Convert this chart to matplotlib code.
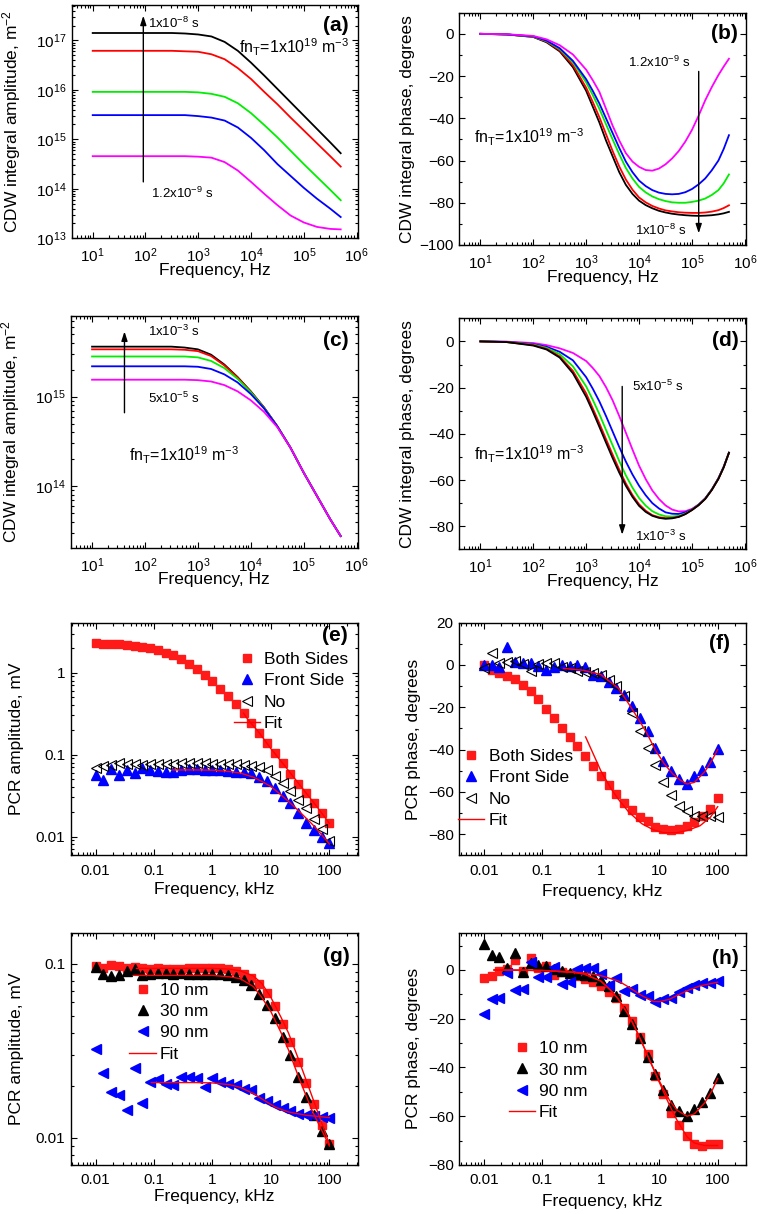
import numpy as np
import matplotlib
matplotlib.use("Agg")
import matplotlib.pyplot as plt
from matplotlib.ticker import LogLocator, NullFormatter, FuncFormatter, MultipleLocator, FixedLocator

# ---------------- data ----------------
# CDW simulation frequency grid (Hz) for amplitude panels
cdw_freq = [10, 31.6, 100, 178, 316, 562, 1000, 1778, 3162, 5623, 10000, 17783,
            31623, 56234, 100000, 177828, 316228, 500000]
# finer grid (Hz) for phase panels
cdw_freq_ph = [10, 31.6, 100, 178, 316, 562, 1000, 1334, 1778, 2371, 3162, 4217, 5623, 7499,
               10000, 13335, 17783, 23714, 31623, 42170, 56234, 74989, 100000, 133352,
               177828, 237137, 316228, 398107, 500000]

# (a) log10 amplitude (m^-2), tau = 1e-8 ... 1.2e-9 s
a_black = [17.15, 17.15, 17.15, 17.15, 17.15, 17.14, 17.12, 17.08, 16.97, 16.79, 16.55, 16.29, 16.02, 15.75, 15.48, 15.21, 14.94, 14.72]
a_red = [16.79, 16.79, 16.79, 16.79, 16.79, 16.78, 16.77, 16.72, 16.62, 16.44, 16.22, 15.96, 15.71, 15.44, 15.18, 14.92, 14.66, 14.45]
a_green = [15.96, 15.96, 15.96, 15.96, 15.96, 15.96, 15.95, 15.92, 15.86, 15.73, 15.53, 15.29, 15.04, 14.77, 14.50, 14.24, 13.98, 13.77]
a_blue = [15.49, 15.49, 15.49, 15.49, 15.49, 15.49, 15.47, 15.44, 15.38, 15.24, 15.03, 14.78, 14.50, 14.26, 14.02, 13.80, 13.60, 13.43]
a_magenta = [14.66, 14.66, 14.66, 14.66, 14.66, 14.66, 14.65, 14.63, 14.54, 14.37, 14.14, 13.90, 13.67, 13.46, 13.32, 13.23, 13.19, 13.18]

# (b) phase (degrees), on cdw_freq_ph
b_black = [0, -0.3, -1.5, -4, -8.3, -15.8, -27, -34.5, -42, -50.5, -58, -65.5, -71.5, -75.8, -79, -81.1, -82.6, -83.8, -84.6,
           -85.2, -85.6, -85.9, -86.1, -86.2, -86.1, -85.9, -85.5, -85, -84.3]
b_red = [0, -0.3, -1.4, -3.7, -7.8, -14.8, -25.5, -32.3, -39.5, -47.5, -55.5, -62.8, -69, -73.8, -77.5, -79.8, -81.5, -82.7, -83.6,
         -84.1, -84.5, -84.7, -84.8, -84.8, -84.6, -84.2, -83.5, -82.5, -81.2]
b_green = [0, -0.3, -1.3, -3.4, -7.2, -13.5, -23, -29, -35.5, -42.8, -50, -57, -63.5, -68.5, -72.5, -75.1, -77, -78.3, -79.2,
           -79.8, -80, -80, -79.6, -79, -78, -76.3, -74, -70.8, -66.6]
b_blue = [0, -0.3, -1.2, -3.2, -6.8, -12.8, -21.5, -27, -33, -40, -47, -54, -60.5, -65.5, -69.5, -72.1, -74, -75.2, -75.8,
          -76, -75.8, -75, -73.5, -71.3, -68.5, -64.6, -60, -54.5, -48]
b_magenta = [0, -0.2, -1.0, -2.6, -5.4, -9.8, -17, -22, -27.5, -35.5, -43.5, -50.5, -56.5, -60.5, -63, -64.5, -64.8, -63.8, -61.8,
             -59, -55.5, -51, -45.5, -38.8, -31.5, -25.2, -19.5, -15.5, -11.8]

# (c) log10 amplitude, tau = 1e-3 ... 5e-5 s
c_black = [15.56, 15.56, 15.56, 15.56, 15.56, 15.55, 15.53, 15.47, 15.36, 15.22, 15.06, 14.88, 14.67, 14.43, 14.15, 13.89, 13.63, 13.44]
c_red = [15.53, 15.53, 15.53, 15.53, 15.53, 15.525, 15.51, 15.455, 15.35, 15.215, 15.055, 14.88, 14.67, 14.43, 14.15, 13.89, 13.63, 13.44]
c_green = [15.45, 15.45, 15.45, 15.45, 15.45, 15.45, 15.44, 15.40, 15.32, 15.20, 15.05, 14.875, 14.67, 14.43, 14.15, 13.89, 13.63, 13.44]
c_blue = [15.34, 15.34, 15.34, 15.34, 15.34, 15.34, 15.335, 15.31, 15.25, 15.16, 15.03, 14.87, 14.67, 14.43, 14.15, 13.89, 13.63, 13.44]
c_magenta = [15.19, 15.19, 15.19, 15.19, 15.19, 15.19, 15.185, 15.17, 15.13, 15.06, 14.96, 14.83, 14.66, 14.43, 14.15, 13.89, 13.63, 13.44]

# (d) phase (degrees), on cdw_freq_ph
d_black = [0, -0.3, -1.8, -3.5, -7, -13.8, -24, -30.3, -37, -43.8, -50.5, -56.8, -62.5, -67.3, -71.2, -73.8, -75.5, -76.4, -76.8,
           -76.6, -76, -74.8, -73, -70.9, -68.2, -64.3, -59.5, -54.5, -48.2]
d_red = [0, -0.3, -1.6, -3.2, -6.5, -12.8, -22.5, -29, -35.5, -42.3, -49, -55.5, -61.5, -66.5, -70.5, -73.3, -75.2, -76.1, -76.5,
         -76.4, -75.9, -74.7, -73, -70.9, -68.2, -64.3, -59.5, -54.5, -48.2]
d_green = [0, -0.3, -1.4, -2.8, -5.5, -10.8, -19.5, -25.3, -31.5, -38.3, -45, -51.8, -58, -63.3, -67.8, -71.1, -73.5, -74.9, -75.7,
           -75.8, -75.5, -74.5, -72.9, -70.8, -68.1, -64.2, -59.4, -54.4, -48.2]
d_blue = [0, -0.2, -1.2, -2.3, -4.5, -8.2, -15.5, -20.5, -26, -32.3, -39, -45.7, -52, -57.6, -62.5, -66.6, -70, -72.3, -74,
          -74.6, -74.7, -74, -72.8, -70.7, -68, -64.1, -59.3, -54.3, -48.2]
d_magenta = [0, -0.1, -0.7, -1.6, -3.0, -5.0, -8.5, -11.5, -15, -19.8, -25.5, -32.3, -39.5, -46.8, -53.8, -59.6, -64.5, -68.2, -71,
             -72.8, -73.6, -73.5, -72.5, -70.6, -68, -64.1, -59.2, -54.2, -48.2]

# PCR measurement frequencies (kHz)
pcr_freq = [0.01, 0.0136, 0.0185, 0.0251, 0.0341, 0.0464, 0.0631, 0.0858, 0.117, 0.158,
            0.215, 0.293, 0.398, 0.541, 0.736, 1.0, 1.36, 1.85, 2.51, 3.41, 4.64, 6.31,
            8.58, 11.7, 15.8, 21.5, 29.3, 39.8, 54.1, 73.6, 100]

# (e) PCR amplitude (mV)
e_both = [2.28, 2.25, 2.24, 2.22, 2.18, 2.13, 2.06, 1.98, 1.88, 1.76, 1.62, 1.46, 1.28, 1.10, 0.94, 0.78,
          0.64, 0.52, 0.41, 0.32, 0.245, 0.185, 0.140, 0.104, 0.078, 0.058, 0.044, 0.034, 0.0255, 0.0193, 0.0148]
e_front = [0.057, 0.049, 0.066, 0.056, 0.064, 0.060, 0.068, 0.065, 0.063, 0.061, 0.062, 0.065, 0.066, 0.066, 0.065, 0.065,
           0.064, 0.063, 0.062, 0.061, 0.059, 0.053, 0.047, 0.039, 0.031, 0.0255, 0.0193, 0.0148, 0.0119, 0.0098, 0.0083]
e_no = [0.069, 0.072, 0.075, 0.078, 0.077, 0.076, 0.075, 0.076, 0.076, 0.077, 0.077, 0.078, 0.078, 0.078, 0.078, 0.077,
        0.077, 0.076, 0.076, 0.075, 0.073, 0.070, 0.064, 0.055, 0.045, 0.036, 0.028, 0.022, 0.0165, 0.0125, 0.0089]
e_fit_both_f = [3.4, 4, 6.3, 10, 16, 25, 40, 63, 100]
e_fit_both = [0.32, 0.27, 0.185, 0.118, 0.078, 0.052, 0.034, 0.0225, 0.0145]
e_fit_front_f = [0.21, 0.5, 1, 2, 3, 5, 7, 10, 15, 20, 30, 50, 70, 100]
e_fit_front = [0.065, 0.065, 0.0645, 0.062, 0.0595, 0.053, 0.047, 0.0407, 0.032, 0.0268, 0.0205, 0.0143, 0.011, 0.0081]

# (f) PCR phase (degrees)
f_both = [0, -2.4, -3.6, -5, -6.8, -9.4, -12.1, -16.2, -20.9, -25.2, -29.6, -34.1, -38.5, -42.9, -47.6, -52.4,
          -56.9, -61, -65.3, -68.7, -71.9, -73.9, -76.7, -77.5, -77.8, -77.5, -76.3, -74.4, -71.5, -68.1, -62.9]
f_front = [0, 0, -0.8, 8.6, 1.6, 0.8, 0.8, -0.5, -2.4, -0.8, 0, -0.3, 0, -0.8, -4.7, -5.2,
           -7.9, -11, -14.2, -19.3, -25.2, -31.4, -39.3, -45.6, -50.3, -53.9, -56.3, -52.7, -49.8, -46.1, -39.8]
f_no = [-1.6, 5.8, 1.1, 1.3, 1.9, 0.3, -2.7, 0.5, 0.8, 1.1, -0.8, -1.6, -2.7, -3.1, -3.6, -4.7,
        -7.1, -9.9, -14.9, -22.8, -31, -39.3, -47.2, -55.5, -61.3, -66.5, -69.2, -71.2, -71.5, -71.5, -71.9]
f_fit_both_f = [0.55, 0.8, 1.0, 1.5, 2, 3, 5, 8, 12, 20, 30, 50, 75, 100]
f_fit_both = [-34, -44, -50, -58.5, -63.5, -69.5, -75, -78, -79.3, -79.3, -78.3, -76, -72, -67]
f_fit_front_f = [0.23, 0.5, 1, 2, 3.2, 4.5, 6.2, 8.5, 12, 17, 23, 30, 40, 60, 80, 100]
f_fit_front = [-1.6, -2.5, -4.5, -11, -19.5, -26, -32.5, -40, -46.5, -51.5, -54.5, -56.3, -55.5, -50.5, -45, -40]

# (g) PCR amplitude (mV) vs thickness
g_10 = [0.097, 0.095, 0.098, 0.097, 0.094, 0.096, 0.094, 0.093, 0.094, 0.093, 0.093, 0.093, 0.094, 0.095, 0.094, 0.095,
        0.094, 0.093, 0.091, 0.087, 0.083, 0.076, 0.068, 0.057, 0.045, 0.0354, 0.0274, 0.0206, 0.0157, 0.0119, 0.0092]
g_30 = [0.096, 0.087, 0.085, 0.086, 0.091, 0.093, 0.086, 0.087, 0.088, 0.088, 0.087, 0.088, 0.087, 0.087, 0.087, 0.087,
        0.087, 0.086, 0.084, 0.081, 0.075, 0.067, 0.058, 0.0486, 0.038, 0.030, 0.0225, 0.0172, 0.0135, 0.0110, 0.0092]
g_90 = [0.0325, 0.0235, 0.0183, 0.0176, 0.0145, 0.0251, 0.0158, 0.0210, 0.0218, 0.0205, 0.0201, 0.0224, 0.0224, 0.0220, 0.0197, 0.0220,
        0.0210, 0.0203, 0.0201, 0.0192, 0.0188, 0.0169, 0.0162, 0.0154, 0.0148, 0.0143, 0.0138, 0.0135, 0.0133, 0.0132, 0.0130]
g_fit_10_f = [0.05, 1, 2, 3, 5, 7, 10, 15, 20, 30, 50, 70, 100]
g_fit_10 = [0.094, 0.094, 0.093, 0.091, 0.085, 0.077, 0.064, 0.049, 0.040, 0.028, 0.0175, 0.0128, 0.0092]
g_fit_30_f = [0.045, 1, 2, 3, 5, 7, 10, 15, 20, 30, 50, 70, 100]
g_fit_30 = [0.0857, 0.0857, 0.084, 0.082, 0.074, 0.064, 0.053, 0.040, 0.032, 0.0222, 0.0145, 0.0115, 0.0090]
g_fit_90_f = [0.09, 0.5, 1, 2, 3, 5, 8, 12, 20, 40, 100]
g_fit_90 = [0.0208, 0.0208, 0.0207, 0.0202, 0.0195, 0.0180, 0.0163, 0.0150, 0.0141, 0.0135, 0.0131]

# (h) PCR phase (degrees) vs thickness
h_10 = [-3.4, -2.6, -0.3, 0.5, 4.3, -0.5, 5.0, 0.8, 1.5, -2.0, -1.0, -1.5, -2.5, -3.5, -4.8, -6.5,
        -9.2, -11.6, -15.5, -20.9, -27.4, -34.6, -43.4, -51, -58.8, -63.6, -68.1, -71.5, -72.1, -71.5, -71.5]
h_30 = [10.7, 6.2, 5.5, 1.0, 6.8, -0.7, 3.0, 2.0, 1.8, 0.5, -0.5, -1.2, -1.5, -2.0, -2.5, -4.1,
        -6.6, -10.5, -16.8, -22.3, -28, -35.6, -42.8, -49.2, -55.4, -57.9, -59.8, -57, -54, -50.6, -44.2]
h_90 = [-18.2, -11.9, -11.6, -1.4, -8.2, -7.9, 3.4, -2.7, -3.0, 1.4, -5.9, -5.1, 0.4, 1.0, 0.7, -1.6,
        -6.2, -3.1, -8.6, -7.8, -10.3, -10.5, -13, -12, -11.6, -9.2, -7.5, -6.2, -5.5, -5.5, -4.5]
h_fit_10_f = [0.015, 0.1, 0.3, 0.5, 1, 1.5, 2, 3, 4, 5, 7, 10, 15, 20, 30, 40, 60, 100]
h_fit_10 = [0, -0.2, -0.8, -1.5, -4.5, -8.5, -12, -18.5, -24.5, -29.5, -37.5, -46, -55.5, -61.5, -68.5, -71, -72, -72]
h_fit_30_f = [0.015, 0.1, 0.3, 0.5, 1, 1.5, 2, 3, 4, 5, 7, 10, 15, 20, 30, 40, 60, 80, 100]
h_fit_30 = [0, -0.2, -0.8, -1.5, -4.5, -8.5, -12, -18.5, -24.5, -29.5, -37.5, -45.5, -53.5, -57.5, -60, -59, -54.5, -49.5, -44.5]
h_fit_90_f = [0.015, 0.1, 0.5, 1, 2, 3, 5, 8, 10, 15, 20, 30, 50, 100]
h_fit_90 = [0, -0.2, -1.2, -2.3, -4.5, -7, -10.5, -12.9, -13, -12, -10.5, -8.5, -6.5, -5]

# ---------------- style ----------------
plt.rcParams['font.family'] = ['Liberation Sans', 'DejaVu Sans']
plt.rcParams['mathtext.fontset'] = 'custom'
plt.rcParams['mathtext.rm'] = 'Liberation Sans'
plt.rcParams['mathtext.it'] = 'Liberation Sans:italic'
plt.rcParams['mathtext.bf'] = 'Liberation Sans:bold'
plt.rcParams['mathtext.default'] = 'regular'

W, H = 757, 1214
fig = plt.figure(figsize=(W / 100, H / 100), dpi=100)

TICK_FS = 11
LABEL_FS = 12.5
LEG_FS = 12.5
ANN_FS = 9.5
FN_FS = 11.5
PANEL_FS = 15

COLS = ['#000000', '#ff0000', '#00ee00', '#0000ff', '#ff00ff']


def make_axes(l, t, r, b):
    return fig.add_axes([l / W, 1 - b / H, (r - l) / W, (b - t) / H])


def style(ax, ylab_x, xlab_y):
    ax.tick_params(which='both', direction='in', top=True, right=True, width=0.8,
                   labelsize=TICK_FS)
    ax.tick_params(which='major', length=4.5)
    ax.tick_params(which='minor', length=2.5)
    ax.tick_params(axis='x', which='major', pad=6)
    ax.tick_params(axis='y', which='major', pad=4)
    for s in ax.spines.values():
        s.set_linewidth(1.0)
    ax.yaxis.set_label_coords(ylab_x, 0.5)
    ax.xaxis.set_label_coords(0.5, xlab_y)


def log_x_cdw(ax):
    ax.set_xscale('log')
    ax.set_xlim(4.0, 1.05e6)
    ax.xaxis.set_major_locator(LogLocator(base=10, numticks=20))
    ax.xaxis.set_minor_locator(LogLocator(base=10, subs=np.arange(2, 10), numticks=40))
    ax.xaxis.set_minor_formatter(NullFormatter())
    ax.set_xlabel('Frequency, Hz', fontsize=LABEL_FS)


def log_x_pcr(ax):
    ax.set_xscale('log')
    ax.set_xlim(0.0038, 305)
    ax.xaxis.set_major_locator(FixedLocator([0.01, 0.1, 1, 10, 100]))
    ax.xaxis.set_major_formatter(FuncFormatter(lambda v, p: '%g' % v))
    ax.xaxis.set_minor_locator(LogLocator(base=10, subs=np.arange(2, 10), numticks=40))
    ax.xaxis.set_minor_formatter(NullFormatter())
    ax.set_xlabel('Frequency, kHz', fontsize=LABEL_FS)


def log_y(ax, lo, hi, fmt=None):
    ax.set_yscale('log')
    ax.set_ylim(lo, hi)
    ax.yaxis.set_major_locator(LogLocator(base=10, numticks=20))
    ax.yaxis.set_minor_locator(LogLocator(base=10, subs=np.arange(2, 10), numticks=40))
    ax.yaxis.set_minor_formatter(NullFormatter())
    if fmt is not None:
        ax.yaxis.set_major_formatter(fmt)


def arrow(ax, x0, y0, x1, y1):
    ax.annotate('', xy=(x1, y1), xytext=(x0, y0),
                arrowprops=dict(arrowstyle='-|>,head_length=0.55,head_width=0.18',
                                color='k', lw=1.0, shrinkA=0, shrinkB=0,
                                mutation_scale=10))


def panel_label(ax, s, x, y):
    ax.text(x, y, s, transform=ax.transAxes, ha='right', va='center',
            fontsize=PANEL_FS, fontweight='bold')


fnT = 'fn$_{T}$=1x10$^{19}$ m$^{-3}$'
freq = np.array(cdw_freq)
freq_ph = np.array(cdw_freq_ph)

# ---------------- (a) ----------------
ax = make_axes(71.7, 5, 357.7, 238.3)
for vals, c in zip([a_black, a_red, a_green, a_blue, a_magenta], COLS):
    ax.plot(freq, 10 ** np.array(vals), color=c, lw=1.3)
log_x_cdw(ax)
log_y(ax, 1e13, 5.2e17)
ax.set_ylabel('CDW integral amplitude, m$^{-2}$', fontsize=LABEL_FS)
style(ax, -0.170, -0.106)
arrow(ax, 91, 10 ** 14.14, 91, 10 ** 17.5)
ax.text(113, 10 ** 17.35, '1x10$^{-8}$ s', fontsize=ANN_FS, ha='left', va='center')
ax.text(130, 10 ** 13.9, '1.2x10$^{-9}$ s', fontsize=ANN_FS, ha='left', va='center')
ax.text(6000, 10 ** 16.86, fnT, fontsize=FN_FS, ha='left', va='center')
panel_label(ax, '(a)', 0.967, 0.914)

# ---------------- (b) ----------------
ax = make_axes(459.3, 12.7, 746, 245)
for vals, c in zip([b_black, b_red, b_green, b_blue, b_magenta], COLS):
    ax.plot(freq_ph, vals, color=c, lw=1.3)
log_x_cdw(ax)
ax.set_ylim(-100, 10)
ax.yaxis.set_major_locator(MultipleLocator(20))
ax.yaxis.set_minor_locator(MultipleLocator(10))
ax.set_ylabel('CDW integral phase, degrees', fontsize=LABEL_FS)
style(ax, -0.155, -0.106)
arrow(ax, 1.34e5, -17.8, 1.34e5, -94.5)
ax.text(6170, -13.4, '1.2x10$^{-9}$ s', fontsize=ANN_FS, ha='left', va='center')
ax.text(8300, -92.9, '1x10$^{-8}$ s', fontsize=ANN_FS, ha='left', va='center')
ax.text(7.5, -49, fnT, fontsize=FN_FS, ha='left', va='center')
panel_label(ax, '(b)', 0.973, 0.911)

# ---------------- (c) ----------------
ax = make_axes(71, 316, 357.7, 547.7)
for vals, c in zip([c_black, c_red, c_green, c_blue, c_magenta], COLS):
    ax.plot(freq, 10 ** np.array(vals), color=c, lw=1.3)
log_x_cdw(ax)
log_y(ax, 2.04e13, 8.0e15)
ax.set_ylabel('CDW integral amplitude, m$^{-2}$', fontsize=LABEL_FS)
style(ax, -0.170, -0.106)
arrow(ax, 41, 10 ** 14.82, 41, 10 ** 15.73)
ax.text(112, 10 ** 15.73, '1x10$^{-3}$ s', fontsize=ANN_FS, ha='left', va='center')
ax.text(112, 10 ** 14.98, '5x10$^{-5}$ s', fontsize=ANN_FS, ha='left', va='center')
ax.text(51, 10 ** 14.34, fnT, fontsize=FN_FS, ha='left', va='center')
panel_label(ax, '(c)', 0.967, 0.896)

# ---------------- (d) ----------------
ax = make_axes(459.3, 318.3, 746, 549.3)
for vals, c in list(zip([d_magenta, d_blue, d_green, d_red, d_black], COLS[::-1])):
    ax.plot(freq_ph, vals, color=c, lw=1.3)
log_x_cdw(ax)
ax.set_ylim(-90, 10)
ax.yaxis.set_major_locator(MultipleLocator(20))
ax.yaxis.set_minor_locator(MultipleLocator(10))
ax.set_ylabel('CDW integral phase, degrees', fontsize=LABEL_FS)
style(ax, -0.155, -0.106)
arrow(ax, 4800, -19.5, 4800, -83.7)
ax.text(7400, -19.5, '5x10$^{-5}$ s', fontsize=ANN_FS, ha='left', va='center')
ax.text(8300, -84.4, '1x10$^{-3}$ s', fontsize=ANN_FS, ha='left', va='center')
ax.text(7.5, -49, fnT, fontsize=FN_FS, ha='left', va='center')
panel_label(ax, '(d)', 0.973, 0.906)

pf = np.array(pcr_freq)
SQ = dict(marker='s', ms=5.5, ls='none', color='#ff1a1a', mec='#ff1a1a')
TRI_B = dict(marker='^', ms=6.5, ls='none', color='#0000ff', mec='#0000ff')
TRI_K = dict(marker='^', ms=6.5, ls='none', color='#000000', mec='#000000')
LT_B = dict(marker='<', ms=6.5, ls='none', color='#0000ff', mec='#0000ff')
LT_OPEN = dict(marker='<', ms=6.5, ls='none', mfc='none', mec='#000000', mew=0.8)
FIT = dict(color='#ff0000', lw=1.0)


def legend(ax, handles, labels, x, y):
    ax.legend(handles, labels, loc='upper left', bbox_to_anchor=(x, y), frameon=False,
              fontsize=LEG_FS, handlelength=1.5, handletextpad=0.25, labelspacing=0.35,
              borderpad=0, borderaxespad=0, numpoints=1)


# ---------------- (e) ----------------
ax = make_axes(71, 622.7, 357.7, 855.3)
h1, = ax.plot(pf, e_both, **SQ)
h2, = ax.plot(pf, e_front, **TRI_B)
h3, = ax.plot(pf, e_no, **LT_OPEN)
h4, = ax.plot(e_fit_both_f, e_fit_both, **FIT)
ax.plot(e_fit_front_f, e_fit_front, **FIT)
log_x_pcr(ax)
log_y(ax, 0.0059, 4.07, FuncFormatter(lambda v, p: '%g' % v))
ax.set_ylabel('PCR amplitude, mV', fontsize=LABEL_FS)
style(ax, -0.164, -0.114)
legend(ax, [h1, h2, h3, h4], ['Both Sides', 'Front Side', 'No', 'Fit'], 0.567, 0.874)
panel_label(ax, '(e)', 0.967, 0.947)

# ---------------- (f) ----------------
ax = make_axes(459.3, 622.7, 746, 855.3)
h1, = ax.plot(pf, f_both, **SQ)
h2, = ax.plot(pf, f_front, **TRI_B)
h3, = ax.plot(pf, f_no, **LT_OPEN)
h4, = ax.plot(f_fit_both_f, f_fit_both, **FIT)
ax.plot(f_fit_front_f, f_fit_front, **FIT)
log_x_pcr(ax)
ax.set_ylim(-90, 20)
ax.yaxis.set_major_locator(MultipleLocator(20))
ax.yaxis.set_minor_locator(MultipleLocator(10))
ax.set_ylabel('PCR phase, degrees', fontsize=LABEL_FS)
style(ax, -0.134, -0.124)
legend(ax, [h1, h2, h3, h4], ['Both Sides', 'Front Side', 'No', 'Fit'], -0.003, 0.457)
panel_label(ax, '(f)', 0.944, 0.911)

# ---------------- (g) ----------------
ax = make_axes(71, 932.7, 357.7, 1165)
h1, = ax.plot(pf, g_10, **SQ)
h2, = ax.plot(pf, g_30, **TRI_K)
h3, = ax.plot(pf, g_90, **LT_B)
h4, = ax.plot(g_fit_10_f, g_fit_10, **FIT)
ax.plot(g_fit_30_f, g_fit_30, **FIT)
ax.plot(g_fit_90_f, g_fit_90, **FIT)
log_x_pcr(ax)
log_y(ax, 0.0070, 0.1506, FuncFormatter(lambda v, p: '%g' % v))
ax.set_ylabel('PCR amplitude, mV', fontsize=LABEL_FS)
style(ax, -0.164, -0.103)
legend(ax, [h1, h2, h3, h4], ['10 nm', '30 nm', '90 nm', 'Fit'], 0.204, 0.784)
panel_label(ax, '(g)', 0.973, 0.897)

# ---------------- (h) ----------------
ax = make_axes(459.3, 932.7, 746, 1165)
h1, = ax.plot(pf, h_10, **SQ)
h2, = ax.plot(pf, h_30, **TRI_K)
h3, = ax.plot(pf, h_90, **LT_B)
h4, = ax.plot(h_fit_10_f, h_fit_10, **FIT)
ax.plot(h_fit_30_f, h_fit_30, **FIT)
ax.plot(h_fit_90_f, h_fit_90, **FIT)
log_x_pcr(ax)
ax.set_ylim(-80, 15.3)
ax.yaxis.set_major_locator(MultipleLocator(20))
ax.yaxis.set_minor_locator(MultipleLocator(10))
ax.set_ylabel('PCR phase, degrees', fontsize=LABEL_FS)
style(ax, -0.134, -0.123)
legend(ax, [h1, h2, h3, h4], ['10 nm', '30 nm', '90 nm', 'Fit'], 0.172, 0.533)
panel_label(ax, '(h)', 0.973, 0.89)

fig.savefig('out.png', dpi=100)
